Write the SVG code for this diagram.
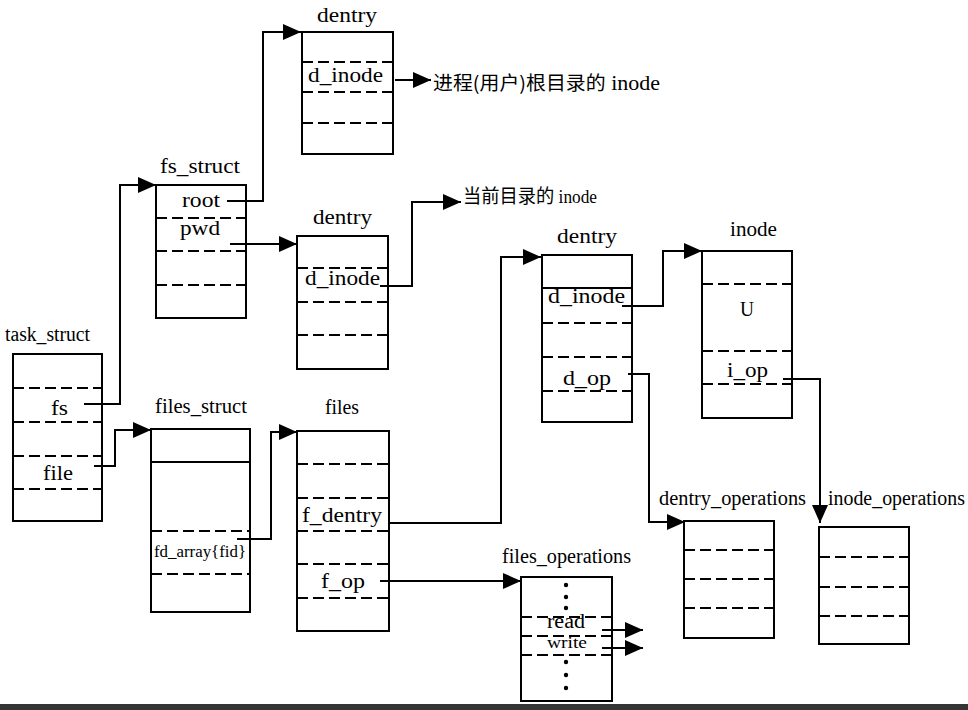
<svg xmlns="http://www.w3.org/2000/svg" width="968" height="710" viewBox="0 0 968 710">
<style>
.box{fill:#fff;stroke:#000;stroke-width:2}
.dash{stroke:#000;stroke-width:2;stroke-dasharray:11 5}
.thin{stroke:#000;stroke-width:2}
.conn{fill:none;stroke:#000;stroke-width:2}
text{font-family:"Liberation Serif","Noto Sans CJK SC",serif;fill:#000;font-size:20px}
.sm{font-size:16px}
.cjk{font-family:"Noto Sans CJK SC","Liberation Serif",sans-serif;font-size:19px}
.ser{font-family:"Liberation Serif",serif}
.dot{fill:#000}
</style>
<defs>
<marker id="ah" markerUnits="userSpaceOnUse" markerWidth="18" markerHeight="16" viewBox="0 0 18 16" refX="18" refY="8" orient="auto">
<path d="M0,0 L18,8 L0,16 z" fill="#000"/>
</marker>
</defs>
<rect width="968" height="710" fill="#fff"/>

<g id="task_struct">
<text x="5" y="341" textLength="85" lengthAdjust="spacingAndGlyphs">task_struct</text>
<rect class="box" x="13" y="354" width="89" height="167"/>
<line class="dash" x1="13" y1="388" x2="102" y2="388"/>
<line class="dash" x1="13" y1="422" x2="102" y2="422"/>
<line class="dash" x1="13" y1="456" x2="102" y2="456"/>
<line class="dash" x1="13" y1="489" x2="102" y2="489"/>
<text x="51" y="415" textLength="17" lengthAdjust="spacingAndGlyphs">fs</text>
<text x="43" y="480" textLength="30" lengthAdjust="spacingAndGlyphs">file</text>
</g>

<g id="fs_struct">
<text x="160" y="173" textLength="80" lengthAdjust="spacingAndGlyphs">fs_struct</text>
<rect class="box" x="156" y="185" width="90" height="133"/>
<line class="dash" x1="156" y1="218" x2="246" y2="218"/>
<line class="dash" x1="156" y1="251" x2="246" y2="251"/>
<line class="dash" x1="156" y1="285" x2="246" y2="285"/>
<text x="182" y="207" textLength="38" lengthAdjust="spacingAndGlyphs">root</text>
<text x="180" y="235" textLength="40" lengthAdjust="spacingAndGlyphs">pwd</text>
</g>

<g id="dentry_root">
<text x="317" y="22" textLength="60" lengthAdjust="spacingAndGlyphs">dentry</text>
<rect class="box" x="302" y="32" width="91" height="122"/>
<line class="dash" x1="302" y1="62" x2="393" y2="62"/>
<line class="dash" x1="302" y1="92" x2="393" y2="92"/>
<line class="dash" x1="302" y1="123" x2="393" y2="123"/>
<text x="308" y="82" textLength="75" lengthAdjust="spacingAndGlyphs">d_inode</text>
</g>

<g id="root_inode_label">
<text class="cjk" x="433" y="90" textLength="227" lengthAdjust="spacingAndGlyphs">进程(用户)根目录的<tspan class="ser" font-size="21"> inode</tspan></text>
</g>

<g id="dentry_pwd">
<text x="313" y="224" textLength="59" lengthAdjust="spacingAndGlyphs">dentry</text>
<rect class="box" x="297" y="236" width="91" height="133"/>
<line class="dash" x1="297" y1="268" x2="388" y2="268"/>
<line class="dash" x1="297" y1="302" x2="388" y2="302"/>
<line class="dash" x1="297" y1="335" x2="388" y2="335"/>
<text x="305" y="285" textLength="75" lengthAdjust="spacingAndGlyphs">d_inode</text>
</g>

<g id="cwd_inode_label">
<text class="cjk" x="463" y="203" font-size="16" textLength="134" lengthAdjust="spacingAndGlyphs">当前目录的<tspan class="ser" font-size="18"> inode</tspan></text>
</g>

<g id="files_struct">
<text x="155" y="413" textLength="92" lengthAdjust="spacingAndGlyphs">files_struct</text>
<rect class="box" x="151" y="429" width="99" height="183"/>
<line class="thin" x1="151" y1="462" x2="250" y2="462"/>
<line class="dash" x1="151" y1="531" x2="250" y2="531"/>
<line class="dash" x1="151" y1="574" x2="250" y2="574"/>
<text class="sm" x="154" y="557" textLength="92" lengthAdjust="spacingAndGlyphs">fd_array{fid}</text>
</g>

<g id="files">
<text x="325" y="414" textLength="34" lengthAdjust="spacingAndGlyphs">files</text>
<rect class="box" x="297" y="431" width="92" height="200"/>
<line class="dash" x1="297" y1="464" x2="389" y2="464"/>
<line class="dash" x1="297" y1="498" x2="389" y2="498"/>
<line class="dash" x1="297" y1="531" x2="389" y2="531"/>
<line class="dash" x1="297" y1="564" x2="389" y2="564"/>
<line class="dash" x1="297" y1="598" x2="389" y2="598"/>
<text x="302" y="522" textLength="80" lengthAdjust="spacingAndGlyphs">f_dentry</text>
<text x="321" y="588" textLength="44" lengthAdjust="spacingAndGlyphs">f_op</text>
</g>

<g id="files_operations">
<text x="502" y="563" textLength="129" lengthAdjust="spacingAndGlyphs">files_operations</text>
<rect class="box" x="521" y="577" width="91" height="124"/>
<line class="dash" x1="521" y1="617" x2="612" y2="617"/>
<line class="dash" x1="521" y1="636" x2="612" y2="636"/>
<line class="dash" x1="521" y1="655" x2="612" y2="655"/>
<circle class="dot" cx="566" cy="585" r="2.2"/>
<circle class="dot" cx="566" cy="597" r="2.2"/>
<circle class="dot" cx="566" cy="608" r="2.2"/>
<circle class="dot" cx="566" cy="662" r="2.2"/>
<circle class="dot" cx="566" cy="675" r="2.2"/>
<circle class="dot" cx="566" cy="688" r="2.2"/>
<text x="547" y="628" textLength="38" lengthAdjust="spacingAndGlyphs">read</text>
<text class="sm" x="547" y="648" textLength="40" lengthAdjust="spacingAndGlyphs">write</text>
</g>

<g id="dentry_file">
<text x="557" y="243" textLength="60" lengthAdjust="spacingAndGlyphs">dentry</text>
<rect class="box" x="542" y="255" width="90" height="167"/>
<line class="thin" x1="542" y1="288" x2="632" y2="288"/>
<line class="dash" x1="542" y1="323" x2="632" y2="323"/>
<line class="dash" x1="542" y1="357" x2="632" y2="357"/>
<line class="dash" x1="542" y1="391" x2="632" y2="391"/>
<text x="548" y="303" textLength="77" lengthAdjust="spacingAndGlyphs">d_inode</text>
<text x="563" y="385" textLength="48" lengthAdjust="spacingAndGlyphs">d_op</text>
</g>

<g id="inode">
<text x="730" y="236" textLength="47" lengthAdjust="spacingAndGlyphs">inode</text>
<rect class="box" x="702" y="251" width="90" height="167"/>
<line class="dash" x1="702" y1="284" x2="792" y2="284"/>
<line class="dash" x1="702" y1="351" x2="792" y2="351"/>
<line class="dash" x1="702" y1="384" x2="792" y2="384"/>
<text x="740" y="316" textLength="14" lengthAdjust="spacingAndGlyphs">U</text>
<text x="727" y="377" textLength="41" lengthAdjust="spacingAndGlyphs">i_op</text>
</g>

<g id="dentry_operations">
<text x="659" y="505" textLength="147" lengthAdjust="spacingAndGlyphs">dentry_operations</text>
<rect class="box" x="684" y="521" width="90" height="117"/>
<line class="dash" x1="684" y1="550" x2="774" y2="550"/>
<line class="dash" x1="684" y1="579" x2="774" y2="579"/>
<line class="dash" x1="684" y1="608" x2="774" y2="608"/>
</g>

<g id="inode_operations">
<text x="828" y="505" textLength="137" lengthAdjust="spacingAndGlyphs">inode_operations</text>
<rect class="box" x="819" y="527" width="90" height="117"/>
<line class="dash" x1="819" y1="557" x2="909" y2="557"/>
<line class="dash" x1="819" y1="587" x2="909" y2="587"/>
<line class="dash" x1="819" y1="616" x2="909" y2="616"/>
</g>

<g id="connectors">
<path class="conn" d="M227,201 H263 V32 H301" marker-end="url(#ah)"/>
<path class="conn" d="M230,244 H297" marker-end="url(#ah)"/>
<path class="conn" d="M84,404 H120 V185 H156" marker-end="url(#ah)"/>
<path class="conn" d="M94,466 H115 V430 H151" marker-end="url(#ah)"/>
<path class="conn" d="M237,539 H271 V432 H297" marker-end="url(#ah)"/>
<path class="conn" d="M395,80 H431" marker-end="url(#ah)"/>
<path class="conn" d="M380,286 H412 V202 H461" marker-end="url(#ah)"/>
<path class="conn" d="M388,523 H501 V257 H541" marker-end="url(#ah)"/>
<path class="conn" d="M622,306 H663 V251 H702" marker-end="url(#ah)"/>
<path class="conn" d="M628,374 H649 V522 H685" marker-end="url(#ah)"/>
<path class="conn" d="M783,379 H820 V523" marker-end="url(#ah)"/>
<path class="conn" d="M380,581 H521" marker-end="url(#ah)"/>
<path class="conn" d="M602,630 H643" marker-end="url(#ah)"/>
<path class="conn" d="M602,648 H643" marker-end="url(#ah)"/>
</g>

<rect x="0" y="704" width="968" height="6" fill="#353535"/>
</svg>
